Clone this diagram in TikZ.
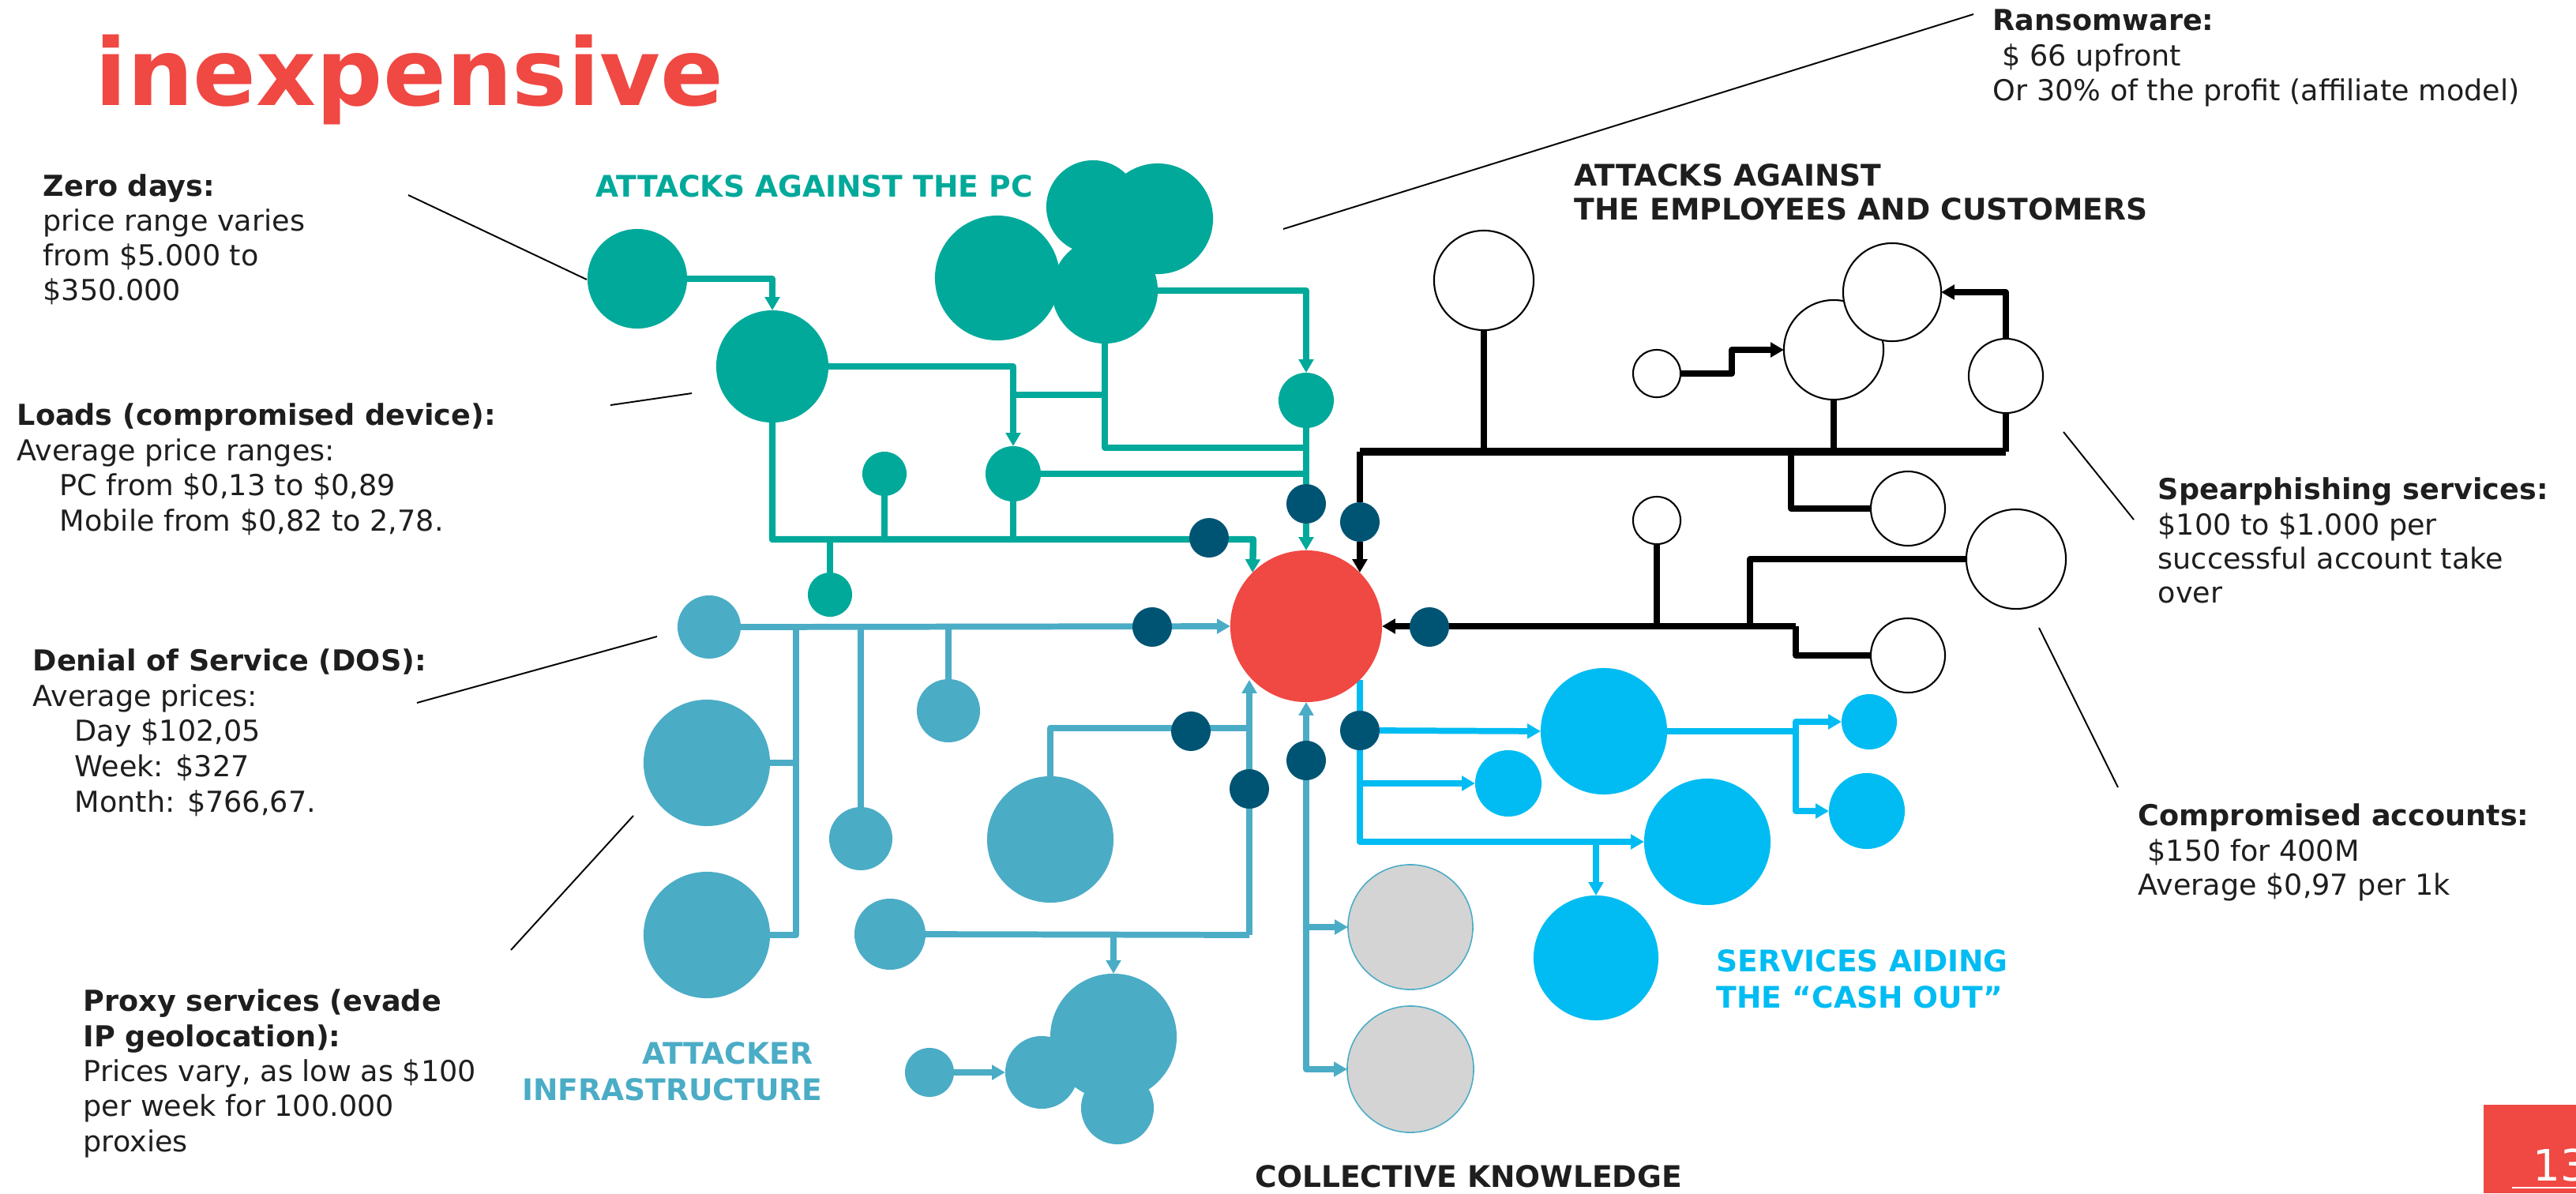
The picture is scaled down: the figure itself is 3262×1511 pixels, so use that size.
\documentclass[tikz,border=0pt]{standalone}
\usepackage{fontspec}
\setmainfont{DejaVu Sans}
\usetikzlibrary{arrows.meta}
\definecolor{cTeal}{HTML}{00A99A}
\definecolor{cRed}{HTML}{F04842}
\definecolor{cNavy}{HTML}{005473}
\definecolor{cLB}{HTML}{4BACC6}
\definecolor{cCyan}{HTML}{00BCF2}
\definecolor{cGray}{HTML}{D4D4D4}
\definecolor{cText}{HTML}{1E1E1E}
\pgfdeclarelayer{bg}
\pgfsetlayers{bg,main}
\begin{document}
\begin{tikzpicture}[x=0.01cm,y=-0.01cm,
  dot/.style={circle,inner sep=0pt,outer sep=0pt,minimum size=#1*0.02cm},
  tl/.style={dot=#1,fill=cTeal},
  nv/.style={dot=25,fill=cNavy},
  lb/.style={dot=#1,fill=cLB},
  cy/.style={dot=#1,fill=cCyan},
  gr/.style={dot=#1,fill=cGray,draw=cLB,line width=0.45pt},
  op/.style={dot=#1,fill=white,draw=black,line width=0.6pt},
  arr/.style={-{Triangle[length=4.8pt,width=5.2pt]}},
  tline/.style={draw=cTeal,line width=2.1pt,line join=round},
  tbus/.style={draw=cTeal,line width=2.4pt,line join=round},
  bline/.style={draw=black,line width=2.2pt,line join=round},
  bbus/.style={draw=black,line width=2.9pt,line join=round},
  lbline/.style={draw=cLB,line width=2.2pt,line join=round},
  cyline/.style={draw=cCyan,line width=2.2pt,line join=round},
  leader/.style={draw=black,line width=0.55pt},
  txt/.style={anchor=base west,inner sep=0pt,text=cText,font=\fontsize{10.4}{12.5}\selectfont},
  btxt/.style={txt,font=\bfseries\fontsize{10.4}{12.5}\selectfont},
  hd/.style={anchor=base west,inner sep=0pt,font=\bfseries\fontsize{10.7}{12.5}\selectfont}
]
\useasboundingbox (0,0) rectangle (3262,1511);

% ---------- title ----------
\node[anchor=base west,inner sep=0pt,text=cRed,font=\bfseries\fontsize{33.5}{40}\selectfont] (title) at (120,133) {inexpensive};

% ---------- teal group ----------
\node[tl=63] (Z) at (807,353) {};
\node[tl=71] (L) at (978,464) {};
\node[tl=35] (M) at (1283,600) {};
\node[tl=28] (S1) at (1120,600) {};
\node[tl=28] (S2) at (1051,753) {};
\node[tl=35] (T1) at (1654,507) {};
\node[tl=79] (C3) at (1263,352) {};
\node[tl=67] (C4) at (1399,368) {};
\node[tl=59] (C1) at (1384,262) {};
\node[tl=70] (C2) at (1466,277) {};

% ---------- centre ----------
\node[dot=96,fill=cRed] (R) at (1654,793) {};

% ---------- navy dots ----------
\node[nv] (D1) at (1654,638) {};
\node[nv] (D2) at (1531,681) {};
\node[nv] (D3) at (1722,661) {};
\node[nv] (D4) at (1459,794) {};
\node[nv] (D5) at (1810,794) {};
\node[nv] (D6) at (1508,926) {};
\node[nv] (D7) at (1582,999) {};
\node[nv] (D8) at (1654,963) {};
\node[nv] (D9) at (1722,925) {};

% ---------- light blue group ----------
\node[lb=40] (B1) at (898,794) {};
\node[lb=80] (B2) at (895,966) {};
\node[lb=80] (B7) at (895,1184) {};
\node[lb=40] (B3) at (1201,900) {};
\node[lb=40] (B4) at (1090,1062) {};
\node[lb=80] (B5) at (1330,1063) {};
\node[lb=45] (B6) at (1127,1183) {};
\node[lb=80] (P1) at (1410,1313) {};
\node[lb=46] (P2) at (1319,1358) {};
\node[lb=46] (P3) at (1415,1403) {};
\node[lb=31] (P4) at (1177,1358) {};

% ---------- gray ----------
\node[gr=79] (G1) at (1786,1174) {};
\node[gr=80] (G2) at (1786,1354) {};

% ---------- cyan ----------
\node[cy=80] (K1) at (2031,926) {};
\node[cy=35] (K2) at (2367,914) {};
\node[cy=48] (K3) at (2364,1027) {};
\node[cy=80] (K4) at (2162,1066) {};
\node[cy=79] (K5) at (2021,1213) {};
\node[cy=42] (K6) at (1910,992) {};

% ---------- open circles ----------
\node[op=63] (O1) at (1879,355) {};
\node[op=63] (O3) at (2322,443) {};
\node[op=62] (O2) at (2396,370) {};
\node[op=30] (O4) at (2098,473) {};
\node[op=47] (O5) at (2540,476) {};
\node[op=47] (O6) at (2416,644) {};
\node[op=30] (O7) at (2098,659) {};
\node[op=63] (O8) at (2553,708) {};
\node[op=47] (O9) at (2416,830) {};

\begin{pgfonlayer}{bg}
% teal connectors
\draw[tline,arr] (Z.east) -| (L.north);
\draw[tline,arr] (L.east) -| (M.north);
\coordinate (tj1) at (1283,500);
\draw[tline] (tj1) -- (tj1 -| C4.south);
\coordinate (tj2) at (1654,567);
\draw[tline] (C4.south) |- (tj2);
\draw[tline,arr] (C4.east) -| (T1.north);
\draw[tline] (T1.south) -- (D1.north);
\draw[tline,arr] (D1.south) -- (R.north);
\draw[tline] (M.east) -- (M.east -| T1.south);
\coordinate (tb) at (1587,683);
\draw[tbus,arr] (L.south) |- (tb) -- (R.north west);
\draw[tline] (M.south) -- (M.south |- tb);
\draw[tline] (S1.south) -- (S1.south |- tb);
\draw[tline] (S2.north) -- (S2.north |- tb);
% black connectors
\coordinate (bb) at (1722,572);
\draw[bline] (O5.south) -- (O5.south |- bb);
\draw[bbus] (O5.south |- bb) -- (bb);
\draw[bline] (bb) -- (D3.north);
\draw[bline,arr] (D3.south) -- (R.north east);
\draw[bline] (O1.south) -- (O1.south |- bb);
\draw[bline] (O3.south) -- (O3.south |- bb);
\coordinate (bj3) at (2268,572);
\draw[bline] (bj3) |- (O6.west);
\draw[bline,arr] (O4.east) -- ++(65,0) |- (O3.west);
\draw[bline,arr] (O5.north) |- (O2.east);
\coordinate (lb1) at (2274,793);
\draw[bline,arr] (lb1) -- (R.east);
\draw[bline] (lb1) |- (O9.west);
\draw[bline] (O7.south) -- (O7.south |- lb1);
\coordinate (bj4) at (2216,793);
\draw[bline] (O8.west) -| (bj4);
% light blue connectors
\draw[lbline,arr] (B1.east) -- (R.west);
\coordinate (v1) at (1008,794);
\draw[lbline] (v1) |- (B7.east);
\draw[lbline] (B2.east) -- (B2.east -| v1);
\draw[lbline] (B4.north) -- (B4.north |- v1);
\draw[lbline] (B3.north) -- (B3.north |- v1);
\coordinate (v2) at (1582,1184);
\coordinate (v3) at (1582,922);
\draw[lbline] (B6.east) -- (v2);
\draw[lbline,arr] (v2) -- (v2 |- R.south west);
\draw[lbline] (B5.north) |- (v3);
\draw[lbline,arr] (P1.north |- v2) -- (P1.north);
\draw[lbline,arr] (P4.east) -- (P2.west);
\draw[lbline,{Triangle[length=4.8pt,width=5.2pt]}-{Triangle[length=4.8pt,width=5.2pt]}] (R.south) |- (G2.west);
\draw[lbline,arr] (G1.west -| R.south) -- (G1.west);
% cyan connectors
\draw[cyline,arr] (R.south east) |- (K4.west);
\draw[cyline,arr] (D9.east) -- (K1.west);
\draw[cyline,arr] (K6.west -| R.south east) -- (K6.west);
\coordinate (c1) at (2274,926);
\draw[cyline] (K1.east) -- (c1);
\draw[cyline,arr] (c1) |- (K2.west);
\draw[cyline,arr] (c1) |- (K3.west);
\draw[cyline,arr] (K5.north |- K4.west) -- (K5.north);
\end{pgfonlayer}

% ---------- leader lines ----------
\coordinate (zl) at (517,247); \coordinate (zr) at (743,354);
\draw[leader] (zl) -- (zr);
\coordinate (ll) at (773,513); \coordinate (lr) at (876,498);
\draw[leader] (ll) -- (lr);
\coordinate (dl) at (528,890); \coordinate (dr) at (832,806);
\draw[leader] (dl) -- (dr);
\coordinate (pl) at (647,1203); \coordinate (pr) at (802,1033);
\draw[leader] (pl) -- (pr);
\coordinate (rl) at (1625,290); \coordinate (rr) at (2499,18);
\draw[leader] (rl) -- (rr);
\coordinate (sl) at (2613,547); \coordinate (sr) at (2702,658);
\draw[leader] (sl) -- (sr);
\coordinate (cl) at (2582,795); \coordinate (cr) at (2682,997);
\draw[leader] (cl) -- (cr);

% ---------- headings ----------
\node[hd,text=cTeal] (hPC) at (754,249) {ATTACKS AGAINST THE PC};
\node[hd,text=cText] (hE1) at (1993,235) {ATTACKS AGAINST};
\node[hd,text=cText] (hE2) at (1993,278) {THE EMPLOYEES AND CUSTOMERS};
\node[hd,text=cCyan] (hS1) at (2173,1230) {SERVICES AIDING};
\node[hd,text=cCyan] (hS2) at (2173,1276) {THE “CASH OUT”};
\node[hd,text=cLB,anchor=base east] (hA1) at (1030,1347) {ATTACKER};
\node[hd,text=cLB,anchor=base east] (hA2) at (1042,1393) {INFRASTRUCTURE};
\node[hd,text=cText] (hC) at (1589,1503) {COLLECTIVE KNOWLEDGE};

% ---------- annotations ----------
\node[btxt] (z1) at (54,248) {Zero days:};
\node[txt] (z2) at (54,292) {price range varies};
\node[txt] (z3) at (54,336) {from \$5.000 to};
\node[txt] (z4) at (54,380) {\$350.000};

\node[btxt] (l1) at (21,538) {Loads (compromised device):};
\node[txt] (l2) at (21,583) {Average price ranges:};
\node[txt] (l3) at (75,627) {PC from \$0,13 to \$0,89};
\node[txt] (l4) at (75,672) {Mobile from \$0,82 to 2,78.};

\node[btxt] (d1) at (41,849) {Denial of Service (DOS):};
\node[txt] (d2) at (41,894) {Average prices:};
\node[txt] (d3) at (94,938) {Day \$102,05};
\node[txt] (d4) at (94,983) {Week: \$327};
\node[txt] (d5) at (94,1028) {Month: \$766,67.};

\node[btxt] (p1) at (105,1280) {Proxy services (evade};
\node[btxt] (p2) at (105,1325) {IP geolocation):};
\node[txt] (p3) at (105,1369) {Prices vary, as low as \$100};
\node[txt] (p4) at (105,1413) {per week for 100.000};
\node[txt] (p5) at (105,1458) {proxies};

\node[btxt] (r1) at (2523,38) {Ransomware:};
\node[txt] (r2) at (2535,83) {\$ 66 upfront};
\node[txt] (r3) at (2523,127) {Or 30\% of the profit (affiliate model)};

\node[btxt] (s1) at (2732,632) {Spearphishing services:};
\node[txt] (s2) at (2732,677) {\$100 to \$1.000 per};
\node[txt] (s3) at (2732,720) {successful account take};
\node[txt] (s4) at (2732,763) {over};

\node[btxt] (a1) at (2707,1045) {Compromised accounts:};
\node[txt] (a2) at (2719,1090) {\$150 for 400M};
\node[txt] (a3) at (2707,1133) {Average \$0,97 per 1k};

% ---------- page number ----------
\fill[cRed] (3145,1399) rectangle (3262,1511);
\node[anchor=base west,inner sep=0pt,text=white,font=\fontsize{15.6}{18}\selectfont] (pg) at (3207,1495) {13};
\draw[white,line width=0.5pt] (3181,1504) -- (3262,1504);
\end{tikzpicture}
\end{document}
